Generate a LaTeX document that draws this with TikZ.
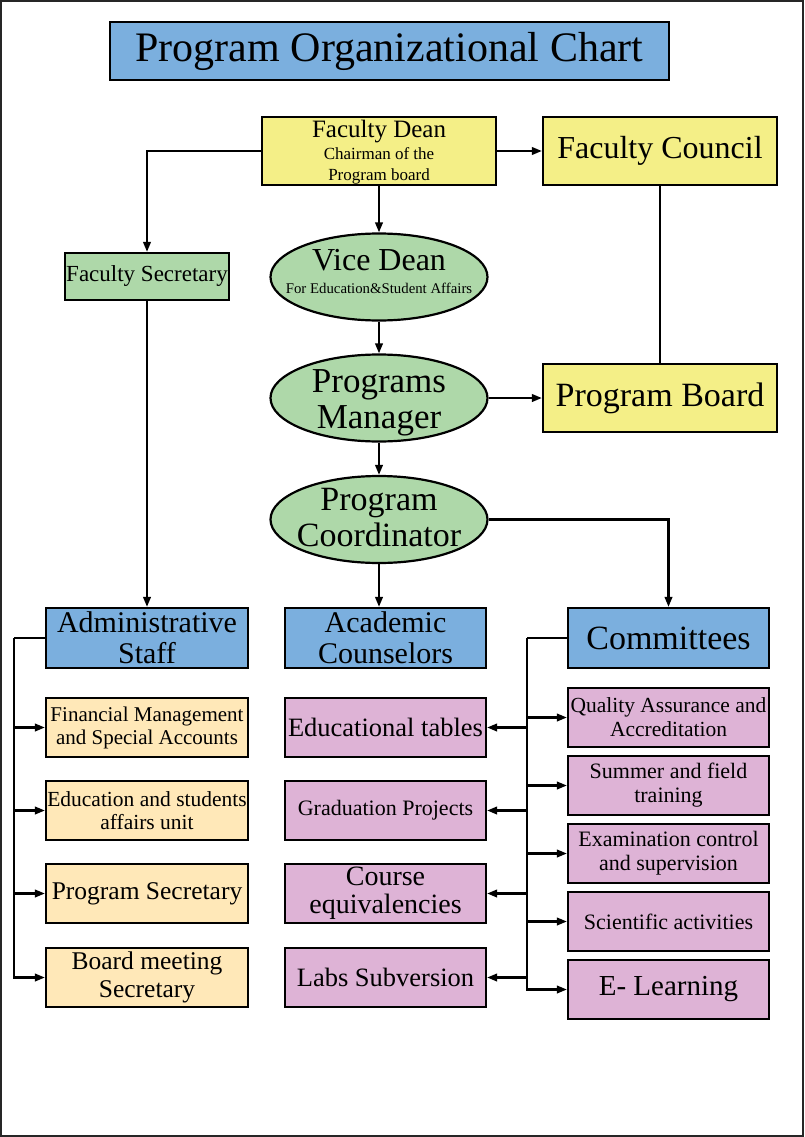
\documentclass[tikz,border=0pt]{standalone}
\usepackage{fontspec}
\setmainfont{Liberation Serif}
\usetikzlibrary{shapes.geometric,arrows.meta}
\definecolor{hblue}{HTML}{7BAFDE}
\definecolor{dyellow}{HTML}{F4EF87}
\definecolor{egreen}{HTML}{AED8A9}
\definecolor{lorange}{HTML}{FFE8B8}
\definecolor{lpurple}{HTML}{DEB3D6}
\tikzset{
  box/.style={draw=black, line width=2.2pt, rectangle, align=center, inner xsep=1pt, inner ysep=-5pt},
  ell/.style={draw=black, line width=2.2pt, ellipse, fill=egreen, inner sep=0pt, minimum width=217pt, minimum height=87pt},
  lbl/.style={align=center, inner sep=0pt},
  conn/.style={line width=2.2pt},
  arr/.style={line width=2.2pt, -{Triangle[length=10pt,width=7.5pt]}},
  ybox/.style={box, fill=lorange, minimum width=202pt, minimum height=59pt},
  abox/.style={box, fill=lpurple, minimum width=201pt, minimum height=59pt},
  cbox/.style={box, fill=lpurple, minimum width=201pt, minimum height=59pt},
  hbox/.style={box, fill=hblue, minimum width=201pt, minimum height=60pt},
}
\newcommand{\fs}[2]{\fontsize{#1}{#2}\selectfont}
\begin{document}
\begin{tikzpicture}[x=1pt,y=-1pt]
\useasboundingbox (0,0) rectangle (804,1137);
\draw[line width=1.6pt, draw=black!85] (0.8,0.8) rectangle (803.2,1136.2);

% title
\node[box, fill=hblue, minimum width=559pt, minimum height=58pt, font=\fs{42}{46}] (title) at (389.5,51) {Program Organizational Chart};

% top row
\node[box, fill=dyellow, minimum width=234pt, minimum height=68pt] (dean) at (379,151) {};
\node[lbl, anchor=base, font=\fs{25}{28}] (deant1) at (379,137) {Faculty Dean};
\node[lbl, anchor=base, font=\fs{17}{19}] (deant2) at (379,159.5) {Chairman of the};
\node[lbl, anchor=base, font=\fs{17}{19}] (deant3) at (379,180) {Program board};
\node[box, fill=dyellow, minimum width=234pt, minimum height=68pt, font=\fs{32}{36}] (council) at (660,151) {Faculty Council};

% faculty secretary
\node[box, fill=egreen, minimum width=160pt, minimum height=47pt, font=\fs{23}{26}] (fsec) at (147,276.5) {Faculty Secretary};

% ellipses
\node[ell] (vd) at (379,277) {};
\node[lbl, anchor=base, font=\fs{32}{34}] (vdt1) at (379,270) {Vice Dean};
\node[lbl, anchor=base, font=\fs{14.8}{17}] (vdt2) at (379,293) {For Education\&Student Affairs};
\node[ell] (pm) at (379,398) {};
\node[lbl, font=\fs{35}{36}] (pmt) at (379,403) {Programs\\Manager};
\node[ell] (pc) at (379,519.5) {};
\node[lbl, font=\fs{34}{36}] (pct) at (379,518) {Program\\Coordinator};

\node[box, fill=dyellow, minimum width=234pt, minimum height=68pt, font=\fs{34}{38}] (pboard) at (660,398) {Program Board};

% heads
\node[hbox, minimum width=202pt, font=\fs{30}{31}] (admin) at (147,638) {Administrative\\Staff};
\node[hbox, font=\fs{30}{31}] (acad) at (385.5,638) {Academic\\Counselors};
\node[hbox, font=\fs{34}{36}] (comm) at (668.5,638) {Committees};

% administrative boxes
\node[ybox, font=\fs{21}{23}] (y1) at (147,727.5) {Financial Management\\and Special Accounts};
\node[ybox, font=\fs{21.5}{23}] (y2) at (147,810.5) {Education and students\\affairs unit};
\node[ybox, font=\fs{25.5}{28}] (y3) at (147,893.5) {Program Secretary};
\node[ybox, font=\fs{25.5}{28}] (y4) at (147,977.5) {Board meeting\\Secretary};

% academic boxes
\node[abox, font=\fs{26.5}{29}] (a1) at (385.5,727.5) {Educational tables};
\node[abox, font=\fs{22}{25}] (a2) at (385.5,810.5) {Graduation Projects};
\node[abox, font=\fs{28}{28}] (a3) at (385.5,893.5) {Course\\equivalencies};
\node[abox, font=\fs{26.5}{29}] (a4) at (385.5,977.5) {Labs Subversion};

% committee boxes
\node[cbox, font=\fs{21.5}{24}] (c1) at (668.5,717.5) {Quality Assurance and\\Accreditation};
\node[cbox, font=\fs{22}{24}] (c2) at (668.5,785.5) {Summer and field\\training};
\node[cbox, font=\fs{22}{24}] (c3) at (668.5,853.5) {Examination control\\and supervision};
\node[cbox, font=\fs{22}{25}] (c4) at (668.5,921.5) {Scientific activities};
\node[cbox, font=\fs{29}{32}] (c5) at (668.5,989.5) {E- Learning};

% connectors top
\draw[arr] (dean.west) -| (fsec.north);
\draw[arr] (dean.east) -- (council.west);
\draw[arr] (dean.south) -- (vd.north);
\draw[conn] (council.south) -- (pboard.north);
\draw[arr] (vd.south) -- (pm.north);
\draw[arr] (pm.east) -- (pboard.west);
\draw[arr] (pm.south) -- (pc.north);
\draw[arr] (pc.east) -| (comm.north);
\draw[arr] (pc.south) -- (pc.south |- acad.north);
\draw[arr] (fsec.south) -- (admin.north);

% administrative tree
\coordinate (aL) at (14,638);
\draw[conn] (admin.west) -- (aL);
\draw[arr] (aL) |- (y4.west);
\draw[arr] (aL |- y1.west) -- (y1.west);
\draw[arr] (aL |- y2.west) -- (y2.west);
\draw[arr] (aL |- y3.west) -- (y3.west);

% committees tree
\coordinate (cL) at (527,638);
\draw[conn] (comm.west) -- (cL);
\draw[arr] (cL) |- (c5.west);
\draw[arr] (cL |- c1.west) -- (c1.west);
\draw[arr] (cL |- c2.west) -- (c2.west);
\draw[arr] (cL |- c3.west) -- (c3.west);
\draw[arr] (cL |- c4.west) -- (c4.west);
\draw[arr] (cL |- a1.east) -- (a1.east);
\draw[arr] (cL |- a2.east) -- (a2.east);
\draw[arr] (cL |- a3.east) -- (a3.east);
\draw[arr] (cL |- a4.east) -- (a4.east);
\end{tikzpicture}
\end{document}
